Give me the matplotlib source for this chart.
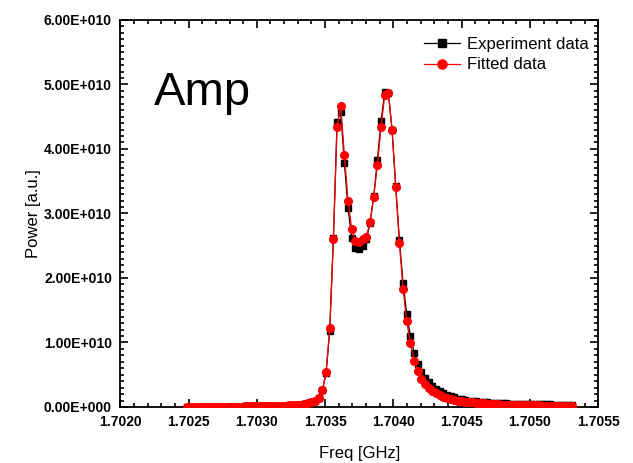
import matplotlib
matplotlib.use("Agg")
import matplotlib.pyplot as plt
import numpy as np
from matplotlib.ticker import MultipleLocator, AutoMinorLocator, FuncFormatter

plt.rcParams['font.family'] = ['Liberation Sans', 'DejaVu Sans']

# frequency sweep (GHz), 106 evenly spaced samples
freq = np.linspace(1.702487, 1.705306, 106)

# power values in units of 1e10
experiment = np.array([
    0.003, 0.003, 0.003, 0.003, 0.004, 0.004, 0.004, 0.004, 0.005, 0.005,
    0.005, 0.006, 0.006, 0.006, 0.007, 0.007, 0.008, 0.008, 0.009, 0.010,
    0.010, 0.011, 0.012, 0.013, 0.014, 0.016, 0.018, 0.020, 0.023, 0.026,
    0.030, 0.036, 0.044, 0.055, 0.070, 0.090, 0.14, 0.26, 0.52, 1.18,
    2.62, 4.42, 4.57, 3.78, 3.08, 2.62, 2.47, 2.45, 2.50, 2.60,
    2.85, 3.27, 3.83, 4.43, 4.88, 4.86, 4.30, 3.42, 2.59, 1.92,
    1.44, 1.10, 0.84, 0.67, 0.54, 0.45, 0.38, 0.33, 0.28, 0.24,
    0.21, 0.19, 0.17, 0.15, 0.13, 0.12, 0.11, 0.10, 0.09, 0.085,
    0.080, 0.075, 0.070, 0.066, 0.062, 0.059, 0.056, 0.054, 0.052, 0.050,
    0.048, 0.047, 0.046, 0.045, 0.044, 0.043, 0.042, 0.041, 0.040, 0.039,
    0.038, 0.038, 0.037, 0.036, 0.036, 0.035])

fitted = np.array([
    0.003, 0.003, 0.003, 0.003, 0.004, 0.004, 0.004, 0.004, 0.005, 0.005,
    0.005, 0.006, 0.006, 0.006, 0.007, 0.007, 0.008, 0.008, 0.009, 0.010,
    0.010, 0.011, 0.012, 0.013, 0.014, 0.016, 0.018, 0.020, 0.023, 0.026,
    0.030, 0.036, 0.044, 0.055, 0.070, 0.090, 0.14, 0.26, 0.54, 1.22,
    2.60, 4.34, 4.67, 3.90, 3.19, 2.76, 2.57, 2.55, 2.60, 2.64,
    2.87, 3.26, 3.75, 4.34, 4.84, 4.87, 4.29, 3.41, 2.54, 1.83,
    1.33, 0.99, 0.72, 0.56, 0.43, 0.35, 0.29, 0.25, 0.21, 0.18,
    0.16, 0.14, 0.12, 0.11, 0.10, 0.09, 0.08, 0.075, 0.070, 0.065,
    0.060, 0.055, 0.050, 0.047, 0.044, 0.041, 0.038, 0.036, 0.034, 0.032,
    0.030, 0.029, 0.028, 0.026, 0.025, 0.024, 0.023, 0.022, 0.021, 0.020,
    0.019, 0.018, 0.017, 0.016, 0.016, 0.015])

fig = plt.figure(figsize=(6.33, 4.63), dpi=100)
ax = fig.add_axes([0.190, 0.121, 0.755, 0.836])

ax.plot(freq, experiment * 1e10, color='black', marker='s', markersize=5,
        linewidth=0.9, label='Experiment data', zorder=2)
ax.plot(freq, fitted * 1e10, color='red', marker='o', markersize=5.5,
        linewidth=0.9, label='Fitted data', zorder=3)

ax.set_xlim(1.7020, 1.7055)
ax.set_ylim(0, 6e10)
ax.xaxis.set_major_locator(MultipleLocator(0.0005))
ax.xaxis.set_minor_locator(AutoMinorLocator(5))
ax.yaxis.set_major_locator(MultipleLocator(1e10))
ax.yaxis.set_minor_locator(AutoMinorLocator(10))
ax.xaxis.set_major_formatter(FuncFormatter(lambda v, p: f"{v:.4f}"))
ax.yaxis.set_major_formatter(FuncFormatter(
    lambda v, p: "0.00E+000" if abs(v) < 1 else f"{v / 1e10:.2f}E+010"))

ax.tick_params(which='both', direction='in', top=True, right=True, width=1.2)
ax.tick_params(which='major', length=6, labelsize=10)
ax.tick_params(axis='y', which='major', pad=6)
ax.tick_params(axis='x', which='major', pad=6)
ax.tick_params(which='minor', length=3)
for lbl in ax.get_xticklabels() + ax.get_yticklabels():
    lbl.set_fontweight('bold')
for sp in ax.spines.values():
    sp.set_linewidth(1.3)

ax.set_xlabel('Freq [GHz]', fontsize=12, labelpad=12)
ax.set_ylabel('Power [a.u.]', fontsize=12, labelpad=2)

ax.text(0.07, 0.78, 'Amp', transform=ax.transAxes, fontsize=34,
        va='baseline')

ax.legend(loc='upper right', bbox_to_anchor=(1.015, 1.0), frameon=False,
          fontsize=12, handlelength=2.2, borderaxespad=0.6,
          labelspacing=0.35, handletextpad=0.4, markerscale=1.2)

fig.savefig('out.png', dpi=100)
